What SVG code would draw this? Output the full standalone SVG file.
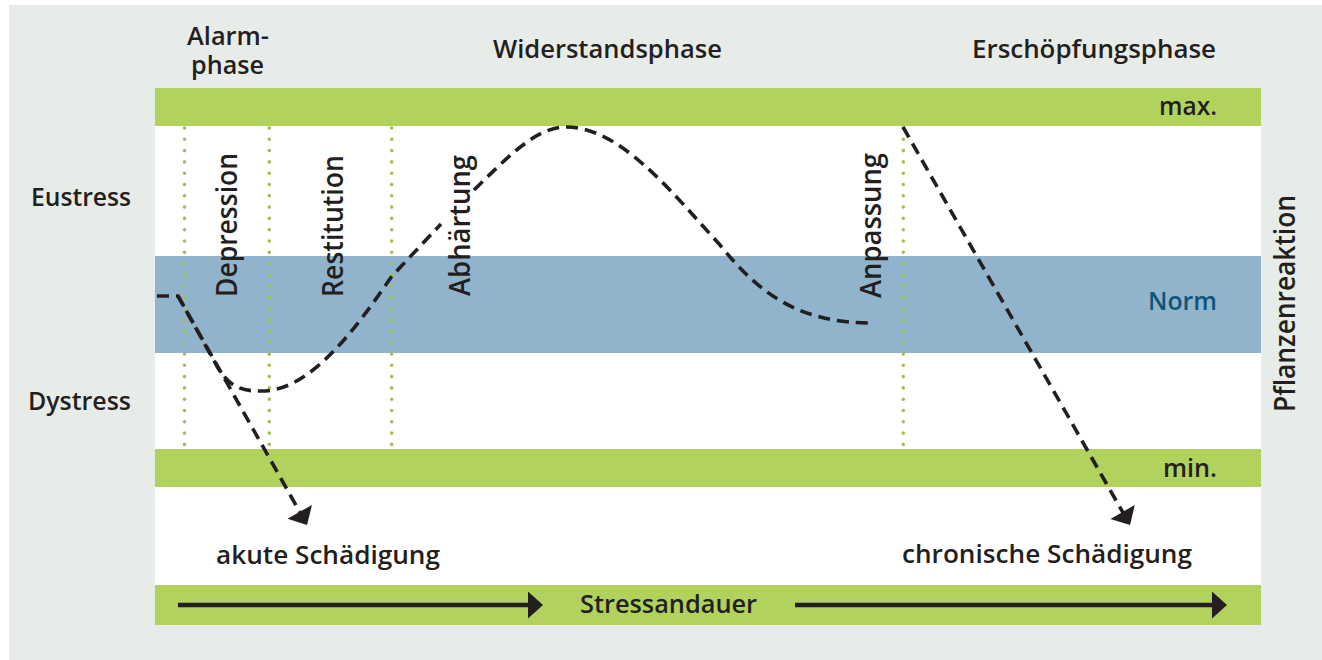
<svg xmlns="http://www.w3.org/2000/svg" width="1322" height="660" viewBox="0 0 1322 660">
<style>
text{font-family:"Open Sans","Liberation Sans",sans-serif;font-weight:600;fill:#231f20;font-size:26px}
.rot{font-size:28px}
.green{fill:#b1d35d}
.dot{fill:none;stroke:#9dc155;stroke-width:3.6;stroke-linecap:round;stroke-dasharray:0 11.3}
.dash{fill:none;stroke:#231f20;stroke-width:3.6;stroke-dasharray:12 7}
.solid{fill:none;stroke:#231f20;stroke-width:4.5}
</style>
<defs>
<marker id="headD" markerUnits="userSpaceOnUse" markerWidth="20" markerHeight="32" viewBox="-2 -16 20 32" refX="2" refY="0" orient="auto" overflow="visible">
<path d="M0,-14 L15,0 L0,14 Z" fill="#231f20"/>
</marker>
<marker id="headS" markerUnits="userSpaceOnUse" markerWidth="20" markerHeight="30" viewBox="-2 -15 20 30" refX="2" refY="0" orient="auto" overflow="visible">
<path d="M0,-13.5 L15,0 L0,13.5 Z" fill="#231f20"/>
</marker>
</defs>
<rect x="0" y="0" width="1322" height="660" fill="#ffffff"/>
<rect x="9" y="5" width="1313" height="655" fill="#e8ece9"/>
<g id="panel">
<rect x="155" y="88" width="1106" height="537" fill="#ffffff"/>
<rect id="band-max" class="green" x="155" y="88" width="1106" height="38"/>
<rect id="band-norm" x="155" y="256" width="1106" height="97" fill="#91b4cc"/>
<rect id="band-min" class="green" x="155" y="449" width="1106" height="38"/>
<rect id="band-time" class="green" x="155" y="585" width="1106" height="40"/>
</g>
<g id="dividers">
<line class="dot" x1="184.5" y1="128" x2="184.5" y2="446"/>
<line class="dot" x1="269.3" y1="128" x2="269.3" y2="446"/>
<line class="dot" x1="391.7" y1="128" x2="391.7" y2="446"/>
<line class="dot" x1="903.3" y1="128" x2="903.3" y2="446"/>
</g>
<g id="connectors">
<path id="wave-1" class="dash" d="M157,296 H178 L218,368 C232,390 245,391 262,391 C310,391 355,330 392,276 L441,224"/>
<path id="wave-2" class="dash" d="M474,190 C505,160 535,127 566,127 C620,127 670,190 720,245 C760,295 800,323 872,323"/>
<path id="acute" class="dash" d="M178,296 L300.7,513.6" marker-end="url(#headD)"/>
<path id="chronic" class="dash" d="M903,127 L1123.6,513.7" marker-end="url(#headD)"/>
<path id="time-1" class="solid" d="M178,605 H530" marker-end="url(#headS)"/>
<path id="time-2" class="solid" d="M795,605 H1214" marker-end="url(#headS)"/>
</g>
<g id="header-alarm"><text x="187" y="45" textLength="82" lengthAdjust="spacingAndGlyphs">Alarm-</text><text x="191" y="74" textLength="73" lengthAdjust="spacingAndGlyphs">phase</text></g>
<g id="header-widerstand"><text x="493" y="58" textLength="229" lengthAdjust="spacingAndGlyphs">Widerstandsphase</text></g>
<g id="header-erschoepfung"><text x="972" y="58" textLength="244" lengthAdjust="spacingAndGlyphs">Erschöpfungsphase</text></g>
<g id="label-max"><text x="1159" y="115" textLength="58" lengthAdjust="spacingAndGlyphs">max.</text></g>
<g id="label-eustress"><text x="31" y="206" textLength="100" lengthAdjust="spacingAndGlyphs">Eustress</text></g>
<g id="label-norm"><text x="1148" y="310" textLength="69" lengthAdjust="spacingAndGlyphs" style="fill:#0f5678">Norm</text></g>
<g id="label-dystress"><text x="28" y="410" textLength="103" lengthAdjust="spacingAndGlyphs">Dystress</text></g>
<g id="label-min"><text x="1163" y="477" textLength="54" lengthAdjust="spacingAndGlyphs">min.</text></g>
<g id="label-depression"><text class="rot" transform="translate(237,297) rotate(-90)" textLength="144" lengthAdjust="spacingAndGlyphs">Depression</text></g>
<g id="label-restitution"><text class="rot" transform="translate(343,297) rotate(-90)" textLength="142" lengthAdjust="spacingAndGlyphs">Restitution</text></g>
<g id="label-abhaertung"><text class="rot" transform="translate(470,296) rotate(-90)" textLength="141" lengthAdjust="spacingAndGlyphs">Abhärtung</text></g>
<g id="label-anpassung"><text class="rot" transform="translate(881,298) rotate(-90)" textLength="145" lengthAdjust="spacingAndGlyphs">Anpassung</text></g>
<g id="label-pflanzenreaktion"><text class="rot" transform="translate(1295,412) rotate(-90)" textLength="217" lengthAdjust="spacingAndGlyphs">Pflanzenreaktion</text></g>
<g id="label-akut"><text x="216" y="564" textLength="224" lengthAdjust="spacingAndGlyphs">akute Schädigung</text></g>
<g id="label-chronisch"><text x="902" y="563" textLength="290" lengthAdjust="spacingAndGlyphs">chronische Schädigung</text></g>
<g id="label-dauer"><text x="580" y="613" textLength="177" lengthAdjust="spacingAndGlyphs">Stressandauer</text></g>
</svg>
